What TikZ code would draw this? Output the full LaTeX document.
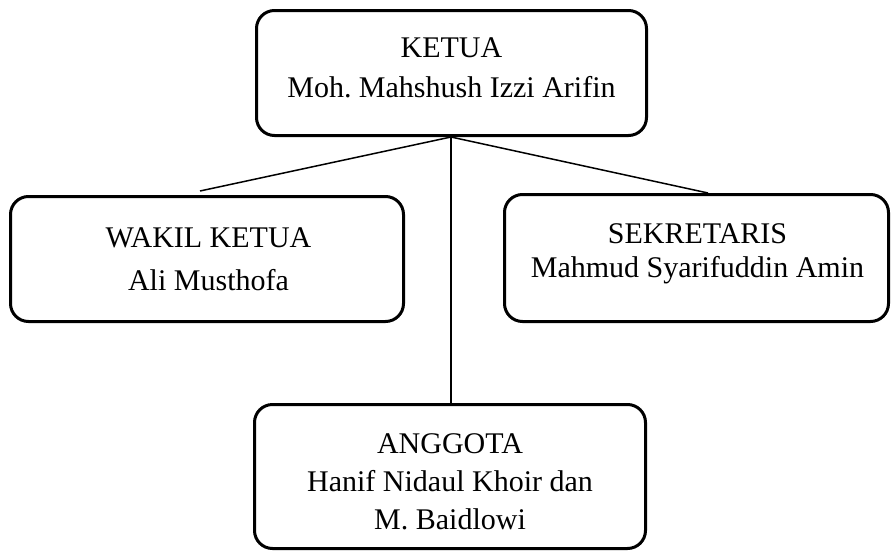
\documentclass[tikz,border=0pt]{standalone}
\usepackage{fontspec}
\setmainfont{Liberation Serif}
\frenchspacing
\begin{document}
\begin{tikzpicture}[x=1pt,y=-1pt,
  orgbox/.style={draw=black,line width=3pt,rounded corners=18pt,inner sep=0pt},
  orgtext/.style={anchor=north,inner sep=0pt,align=center},
  link/.style={draw=black,line width=1.5pt}]
\useasboundingbox (0,0) rectangle (895,552);
\node[orgbox,minimum width=390pt,minimum height=125pt] (ketua) at (451.5,73) {};
\node[orgbox,minimum width=393pt,minimum height=125pt] (wakil) at (207,259) {};
\node[orgbox,minimum width=384pt,minimum height=127pt] (sekr) at (696.5,258) {};
\node[orgbox,minimum width=391pt,minimum height=144pt] (anggota) at (450,476.5) {};
\node[orgtext,font={\fontsize{30}{40}\selectfont}] (ketuat) at (451.5,37) {KETUA\\Moh. Mahshush Izzi Arifin};
\node[orgtext,font={\fontsize{30}{43}\selectfont}] (wakilt) at (208.5,227) {WAKIL KETUA\\Ali Musthofa};
\node[orgtext,font={\fontsize{30}{34}\selectfont}] (sekrt) at (697.5,223) {SEKRETARIS\\Mahmud Syarifuddin Amin};
\node[orgtext,font={\fontsize{30}{38}\selectfont}] (anggotat) at (450,433) {ANGGOTA\\Hanif Nidaul Khoir dan\\M. Baidlowi};
\coordinate (k) at (451,137);
\coordinate (wl) at (200,191);
\coordinate (sl) at (708,193);
\draw[link] (k) -- (wl);
\draw[link] (k) -- (sl);
\draw[link] (k) -- (k |- anggota.north);
\end{tikzpicture}
\end{document}
